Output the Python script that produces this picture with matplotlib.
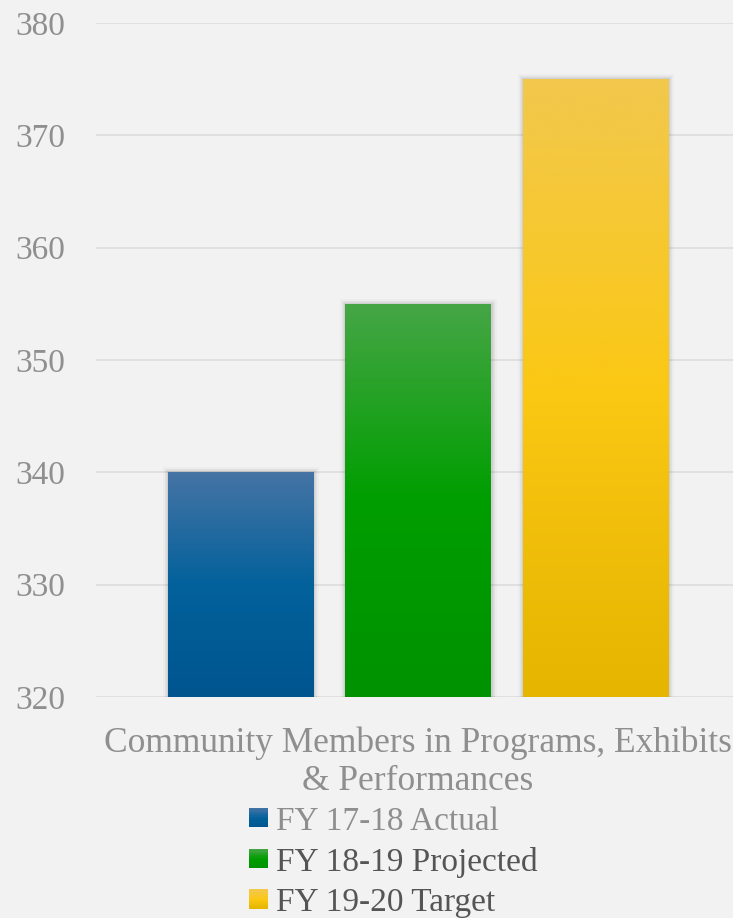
import numpy as np
import matplotlib
matplotlib.use("Agg")
import matplotlib.pyplot as plt
from matplotlib.colors import LinearSegmentedColormap
from matplotlib.legend_handler import HandlerBase
from matplotlib.patches import Rectangle
import matplotlib.patheffects as pe

# ---- data ----
category = "Community Members in Programs, Exhibits\n& Performances"
series = ["FY 17-18 Actual", "FY 18-19 Projected", "FY 19-20 Target"]
values = [340, 355, 375]
y_ticks = [320, 330, 340, 350, 360, 370, 380]

# gradient stops (top, middle, bottom) for each series
gradients = [
    ["#4674a5", "#03619b", "#00558f"],
    ["#46a646", "#009e00", "#009200"],
    ["#f2c84d", "#fbc814", "#e5b500"],
]
legend_text_colors = ["#8e8e8e", "#555555", "#555555"]

BG = "#f2f2f2"
plt.rcParams["font.family"] = ["Liberation Serif", "DejaVu Serif"]

fig = plt.figure(figsize=(7.33, 9.18), dpi=100, facecolor=BG)
ax = fig.add_axes([96 / 733, 1 - 697 / 918, (740 - 96) / 733, (697 - 23) / 918])
ax.set_facecolor(BG)

ymin, ymax = y_ticks[0], y_ticks[-1]
offsets = np.array([-1.0, 0.0, 1.0])
width = 0.817

bars = ax.bar(offsets, np.array(values) - ymin, bottom=ymin, width=width,
              facecolor="none", edgecolor="none", zorder=3)

for bar, stops in zip(bars, gradients):
    # soft shadow around each bar
    bar.set_path_effects([
        pe.Stroke(linewidth=8, foreground="black", alpha=0.025),
        pe.Stroke(linewidth=5, foreground="black", alpha=0.045),
        pe.Stroke(linewidth=2.5, foreground="black", alpha=0.08),
        pe.Normal(),
    ])
    cmap = LinearSegmentedColormap.from_list("g", stops)
    x0, w = bar.get_x(), bar.get_width()
    y0, h = bar.get_y(), bar.get_height()
    grad = np.linspace(0, 1, 256).reshape(-1, 1)
    im = ax.imshow(grad, cmap=cmap, aspect="auto", origin="upper",
                   extent=[x0, x0 + w, y0, y0 + h], zorder=4,
                   interpolation="bicubic")
    im.set_clip_path(bar)

ax.set_xlim(-1.814, 1.814)
ax.set_ylim(ymin, ymax)
ax.set_yticks(y_ticks)
ax.set_yticklabels([str(t) for t in y_ticks])
ax.set_xticks([0])
ax.set_xticklabels([category], linespacing=1.2)
ax.tick_params(axis="y", length=0, pad=22, labelsize=24, labelcolor="#8f8f8f")
ax.tick_params(axis="x", length=0, pad=21, labelsize=25.5, labelcolor="#8f8f8f")
for lab in ax.get_yticklabels():
    lab.set_horizontalalignment("right")

ax.grid(axis="y", color="#e0e0e0", linewidth=1.4, zorder=0)
ax.set_axisbelow(True)
for s in ax.spines.values():
    s.set_visible(False)


class GradientHandler(HandlerBase):
    def __init__(self, stops):
        super().__init__()
        self.stops = stops

    def create_artists(self, legend, orig_handle, xdescent, ydescent,
                       width, height, fontsize, trans):
        cmap = LinearSegmentedColormap.from_list("g", self.stops)
        n = 16
        side = width
        y0 = -ydescent + (height - side) / 2
        arts = []
        for i in range(n):
            c = cmap(1 - (i + 0.5) / n)
            arts.append(Rectangle((-xdescent, y0 + side * i / n), side, side / n + 0.3,
                                  facecolor=c, edgecolor="none", transform=trans))
        return arts


handles = [Rectangle((0, 0), 1, 1) for _ in series]
leg = fig.legend(handles, series, loc="upper left",
                 bbox_to_anchor=(249 / 733, 1 - 806 / 918),
                 frameon=False, fontsize=24, handlelength=0.57, handleheight=0.6,
                 handletextpad=0.24, labelspacing=0.3, borderpad=0, borderaxespad=0,
                 handler_map={h: GradientHandler(g) for h, g in zip(handles, gradients)})
for t, c in zip(leg.get_texts(), legend_text_colors):
    t.set_color(c)

fig.savefig("out.png", dpi=100, facecolor=BG)
